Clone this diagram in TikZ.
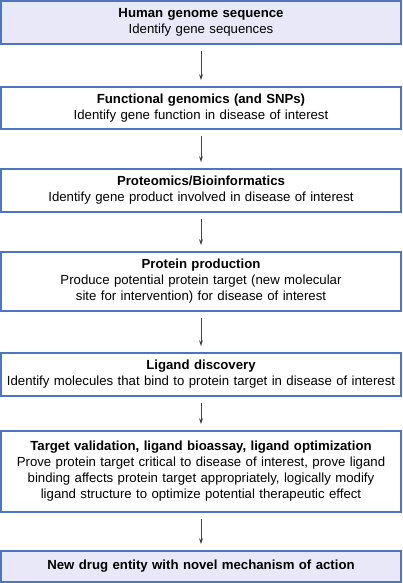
\documentclass[tikz,border=0pt]{standalone}
\usepackage{fontspec}
\setmainfont{Liberation Sans}
\usepackage{tikz}
\usetikzlibrary{arrows.meta,positioning}
\definecolor{boxblue}{HTML}{5073C4}
\definecolor{boxfill}{HTML}{E8E8F8}
\definecolor{arrgray}{HTML}{444444}

\begin{document}
\begin{tikzpicture}[x=1pt,y=-1pt,
  stage/.style={draw=boxblue,line width=1.8pt,fill=white,minimum width=400pt,
    text width=396pt,align=center,inner sep=0pt,
    font=\fontsize{13.2}{16}\selectfont},
  endstage/.style={stage,fill=boxfill},
  flow/.style={-{Stealth[length=6pt,width=4pt]},draw=arrgray,line width=0.9pt,
    shorten >=6pt,shorten <=6pt}]
  \useasboundingbox (0,0) rectangle (402,583);
  \node[endstage,minimum height=43pt] (genome) at (201,22.5)
    {\textbf{Human genome sequence}\\Identify gene sequences};
  \node[stage,minimum height=42pt] (func) at (201,108)
    {\textbf{Functional genomics (and SNPs)}\\Identify gene function in disease of interest};
  \node[stage,minimum height=43pt] (prot) at (201,190.5)
    {\textbf{Proteomics/Bioinformatics}\\Identify gene product involved in disease of interest};
  \node[stage,minimum height=59pt] (prod) at (201,281.5)
    {\textbf{Protein production}\\Produce potential protein target (new molecular\\site for intervention) for disease of interest};
  \node[stage,minimum height=43pt] (ligand) at (201,374.5)
    {\textbf{Ligand discovery}\\Identify molecules that bind to protein target in disease of interest};
  \node[stage,minimum height=81pt] (valid) at (201,471.5)
    {\textbf{Target validation, ligand bioassay, ligand optimization}\\Prove protein target critical to disease of interest, prove ligand\\binding affects protein target appropriately, logically modify\\ligand structure to optimize potential therapeutic effect};
  \node[endstage,minimum height=31pt] (drug) at (201,566.5)
    {\textbf{New drug entity with novel mechanism of action}};
  \foreach \a/\b in {genome/func,func/prot,prot/prod,prod/ligand,ligand/valid,valid/drug}
    \draw[flow] (\a) -- (\b);
\end{tikzpicture}
\end{document}
